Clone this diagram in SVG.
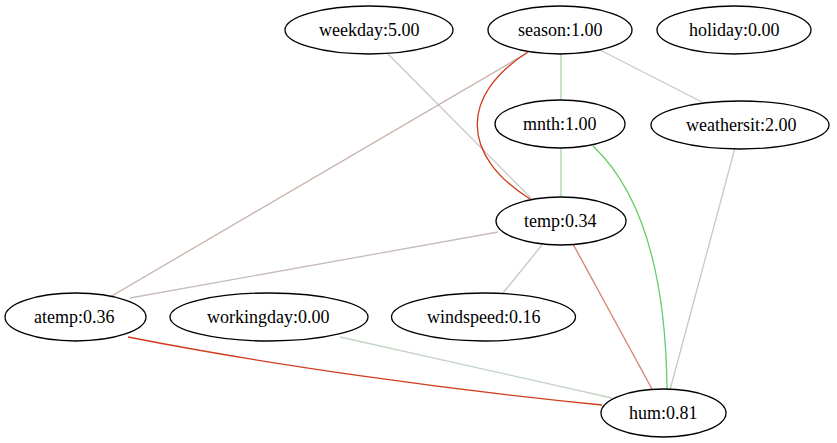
<svg xmlns="http://www.w3.org/2000/svg" width="837" height="443" viewBox="0 0 837 443">
<style>
ellipse{fill:none;stroke:#000;stroke-width:1.3}
</style>
<rect width="837" height="443" fill="#fff"/>
<g id="edges" fill="none" stroke-width="1.3">
<path d="M387,53 L533,200" stroke="#c8c8c8"/>
<path d="M527,53 L110,297" stroke="#c8b0aa"/>
<path d="M528,52 C460,95 460,155 530,199" stroke="#d03c1c"/>
<path d="M561,54 L561,100" stroke="#a0d8a0"/>
<path d="M600,50 L702,102" stroke="#c8c8c8"/>
<path d="M561,148 L561,197" stroke="#a0d8a0"/>
<path d="M593,146 C648,198 666,290 667,389" stroke="#66cc66"/>
<path d="M735,148 L670,390" stroke="#c8c8c8"/>
<path d="M498,232 L130,298" stroke="#c8bcbc"/>
<path d="M542,245 L503,293" stroke="#c8c8c8"/>
<path d="M573,244 L652,389" stroke="#d8806c"/>
<path d="M128,337 C270,365 450,390 602,405" stroke="#d03c1c"/>
<path d="M340,337 L612,398" stroke="#c4d4c4"/>
</g>
<g id="weekday"><ellipse cx="369" cy="30" rx="84" ry="24"/><text x="319" y="36" font-size="18" font-family="Times New Roman">weekday:5.00</text></g>
<g id="season"><ellipse cx="560" cy="30" rx="72" ry="24"/><text x="518" y="36" font-size="18" font-family="Times New Roman">season:1.00</text></g>
<g id="holiday"><ellipse cx="734" cy="30" rx="77" ry="24"/><text x="689" y="36" font-size="18" font-family="Times New Roman">holiday:0.00</text></g>
<g id="mnth"><ellipse cx="560" cy="124" rx="65" ry="24"/><text x="523" y="130" font-size="18" font-family="Times New Roman">mnth:1.00</text></g>
<g id="weathersit"><ellipse cx="740" cy="125" rx="89" ry="24"/><text x="686" y="131" font-size="18" font-family="Times New Roman">weathersit:2.00</text></g>
<g id="temp"><ellipse cx="561" cy="221" rx="65" ry="24"/><text x="524" y="227" font-size="18" font-family="Times New Roman">temp:0.34</text></g>
<g id="atemp"><ellipse cx="75.5" cy="317" rx="70.5" ry="24"/><text x="34" y="323" font-size="18" font-family="Times New Roman">atemp:0.36</text></g>
<g id="workingday"><ellipse cx="269" cy="317" rx="99" ry="24"/><text x="207" y="323" font-size="18" font-family="Times New Roman">workingday:0.00</text></g>
<g id="windspeed"><ellipse cx="483.5" cy="317" rx="92" ry="24"/><text x="427" y="323" font-size="18" font-family="Times New Roman">windspeed:0.16</text></g>
<g id="hum"><ellipse cx="663.5" cy="413" rx="62.5" ry="24"/><text x="629" y="419" font-size="18" font-family="Times New Roman">hum:0.81</text></g>
</svg>
